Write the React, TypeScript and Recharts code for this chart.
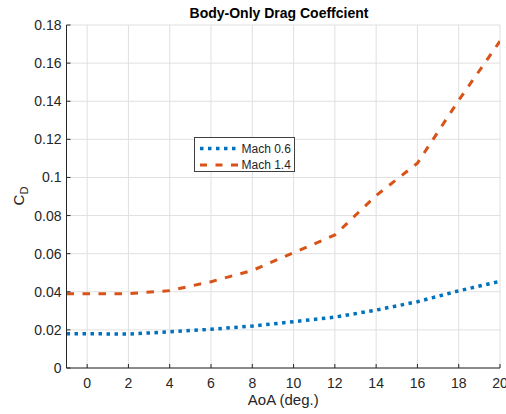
import React from 'react';
import { LineChart, Line, XAxis, YAxis, CartesianGrid, Legend } from 'recharts';

const aoa = [-1, 0, 2, 4, 6, 8, 10, 12, 14, 16, 18, 20];
const mach06 = [0.018, 0.018, 0.0178, 0.019, 0.0203, 0.022, 0.0243, 0.0267, 0.0304, 0.0348, 0.0405, 0.0455];
const mach14 = [0.039, 0.039, 0.039, 0.0406, 0.0453, 0.0512, 0.0605, 0.0698, 0.0905, 0.1075, 0.1405, 0.1715];
const seriesNames = ['Mach 0.6', 'Mach 1.4'];
const xTicks = [0, 2, 4, 6, 8, 10, 12, 14, 16, 18, 20];
const yTicks = [0, 0.02, 0.04, 0.06, 0.08, 0.1, 0.12, 0.14, 0.16, 0.18];
const titleText = 'Body-Only Drag Coeffcient';
const xLabelText = 'AoA (deg.)';

const data = aoa.map((a, i) => ({ aoa: a, m06: mach06[i], m14: mach14[i] }));

const FONT = '"Liberation Sans", Arial, Helvetica, sans-serif';
const AX = '#262626';
const BLUE = '#0072BD';
const ORANGE = '#D95319';

const fmtY = (v: number) => String(Number(v.toFixed(2)));
const blank = () => '';

const LegendBox = () => (
  <div
    style={{
      width: 99,
      height: 33,
      border: '1px solid #404040',
      background: '#ffffff',
    }}
  >
    <svg width={99} height={33} style={{ display: 'block' }}>
      <line x1={5} x2={43} y1={10.5} y2={10.5} stroke={BLUE} strokeWidth={3.5} strokeDasharray="3.5 4.5" />
      <text x={46.5} y={14.7} fontFamily={FONT} fontSize={12} fill={AX}>{seriesNames[0]}</text>
      <line x1={5} x2={43} y1={27} y2={27} stroke={ORANGE} strokeWidth={3} strokeDasharray="7 8.5" />
      <text x={46.5} y={31.2} fontFamily={FONT} fontSize={12} fill={AX}>{seriesNames[1]}</text>
    </svg>
  </div>
);

export default function App() {
  return (
    <div style={{ position: 'absolute', left: 0, top: 0, width: 506, height: 414, background: '#fff' }}>
      <LineChart
        width={506}
        height={414}
        data={data}
        margin={{ top: 25, right: 6, bottom: 0, left: 0 }}
        style={{ fontFamily: FONT }}
      >
        <CartesianGrid stroke="#e0e0e0" strokeWidth={1} />
        <XAxis
          dataKey="aoa"
          type="number"
          domain={[-1, 20]}
          ticks={xTicks}
          allowDataOverflow
          height={46}
          tickSize={-4}
          tickMargin={14}
          axisLine={{ stroke: AX }}
          tickLine={{ stroke: AX }}
          tick={{ fill: AX, fontSize: 14, fontFamily: FONT }}
          interval={0}
        />
        <XAxis
          xAxisId="top"
          orientation="top"
          dataKey="aoa"
          type="number"
          domain={[-1, 20]}
          ticks={xTicks}
          allowDataOverflow
          height={0}
          tickSize={-4}
          tickFormatter={blank}
          axisLine={{ stroke: AX }}
          tickLine={{ stroke: AX }}
          interval={0}
        />
        <YAxis
          type="number"
          domain={[0, 0.18]}
          ticks={yTicks}
          allowDataOverflow
          width={66.5}
          tickSize={-4}
          tickMargin={9}
          tickFormatter={fmtY}
          axisLine={{ stroke: AX }}
          tickLine={{ stroke: AX }}
          tick={{ fill: AX, fontSize: 14, fontFamily: FONT }}
          interval={0}
        />
        <YAxis
          yAxisId="right"
          orientation="right"
          type="number"
          domain={[0, 0.18]}
          ticks={yTicks}
          allowDataOverflow
          width={0}
          tickSize={-4}
          tickFormatter={blank}
          axisLine={{ stroke: AX }}
          tickLine={{ stroke: AX }}
          interval={0}
        />
        <Line
          type="linear"
          dataKey="m06"
          name={seriesNames[0]}
          stroke={BLUE}
          strokeWidth={3.5}
          strokeDasharray="3.5 4.5"
          dot={false}
          activeDot={false}
          isAnimationActive={false}
        />
        <Line
          type="linear"
          dataKey="m14"
          name={seriesNames[1]}
          stroke={ORANGE}
          strokeWidth={3}
          strokeDasharray="7.5 8.5"
          dot={false}
          activeDot={false}
          isAnimationActive={false}
        />
        <Legend
          layout="horizontal"
          verticalAlign="middle"
          align="center"
          content={() => <LegendBox />}
          wrapperStyle={{ left: 194, top: 137, width: 101, height: 35 }}
        />
        <text x={279} y={18.3} textAnchor="middle" fontFamily={FONT} fontSize={14} fontWeight="bold" fill="#000">
          {titleText}
        </text>
        <text x={283.3} y={405} textAnchor="middle" fontFamily={FONT} fontSize={15} fill={AX}>
          {xLabelText}
        </text>
        <text x={24} y={196} textAnchor="middle" transform="rotate(-90 24 196)" fontFamily={FONT} fontSize={15} fill={AX}>
          C<tspan fontSize={11} dy={3.5}>D</tspan>
        </text>
      </LineChart>
    </div>
  );
}
